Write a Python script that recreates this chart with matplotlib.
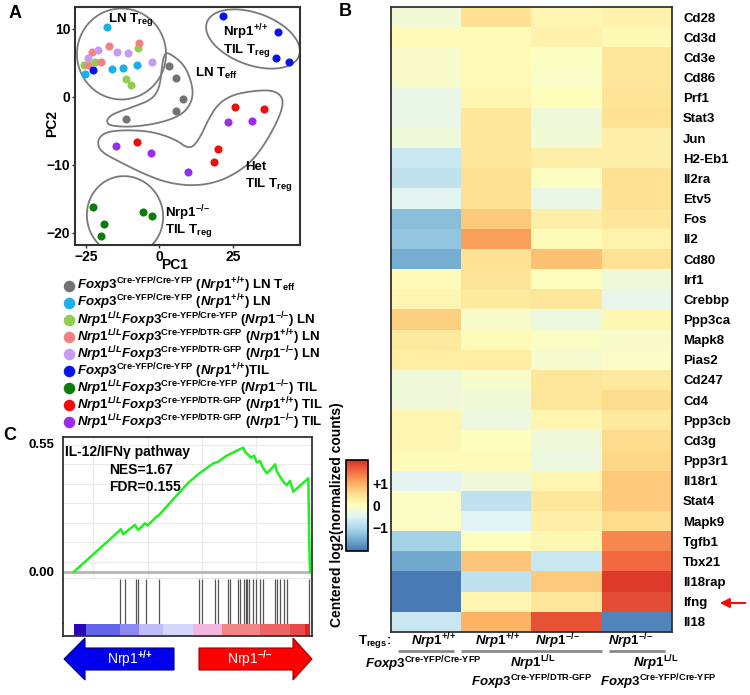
import numpy as np
import matplotlib
matplotlib.use('Agg')
import matplotlib.pyplot as plt
from matplotlib.colors import LinearSegmentedColormap
from matplotlib.patches import Polygon, FancyArrow

plt.rcParams['font.family'] = ['Liberation Sans', 'DejaVu Sans']
plt.rcParams['font.weight'] = 'bold'
plt.rcParams['mathtext.fontset'] = 'custom'
plt.rcParams['mathtext.rm'] = 'Liberation Sans:bold'
plt.rcParams['mathtext.it'] = 'Liberation Sans:italic:bold'
plt.rcParams['mathtext.bf'] = 'Liberation Sans:bold'
plt.rcParams['mathtext.sf'] = 'Liberation Sans:bold'

# ---------------- Panel A data (PC1, PC2) ----------------
ln_teff_pc1 = [3.3, 5.6, 8.0, 5.6, -11.4]
ln_teff_pc2 = [4.6, 2.8, -0.3, -2.1, -3.2]
ln_wt_pc1 = [-17.8, -25.3, -16.1, -12.4, -7.6]
ln_wt_pc2 = [10.3, 3.4, 4.1, 4.3, 4.7]
ln_ko_pc1 = [-7.3, -25.6, -21.9, -11.4, -9.7]
ln_ko_pc2 = [7.2, 4.7, 5.1, 2.6, 1.8]
ln_het_wt_pc1 = [-6.9, -17.1, -22.9, -24.3, -19.9]
ln_het_wt_pc2 = [7.9, 7.5, 6.6, 4.7, 5.1]
ln_het_ko_pc1 = [-20.9, -14.4, -10.7, -24.3, -2.5]
ln_het_ko_pc2 = [6.9, 6.6, 6.5, 5.7, 5.1]
til_wt_pc1 = [-22.6, 21.6, 40.3, 39.7, 44.1]
til_wt_pc2 = [4.0, 11.9, 9.6, 5.7, 5.1]
til_ko_pc1 = [-22.6, -18.8, -19.9, -5.6, -2.5]
til_ko_pc2 = [-16.2, -18.7, -20.4, -16.9, -17.5]
til_het_wt_pc1 = [-7.6, 18.6, 19.9, 25.7, 35.6]
til_het_wt_pc2 = [-6.6, -9.6, -7.6, -1.5, -1.8]
til_het_ko_pc1 = [-14.7, -2.9, 9.7, 23.3, 31.5]
til_het_ko_pc2 = [-7.2, -8.2, -11.0, -3.7, -3.5]

group_colors = ['#737373', '#1cb0ea', '#8fce4f', '#f28282', '#c79bf2',
                '#0a14e6', '#0b7d0b', '#f00c0c', '#9a2cf0']

DASH = '\u2013'
CC = r"^{\text{Cre-YFP/Cre-YFP}}"
CD = r"^{\text{Cre-YFP/DTR-GFP}}"
FOX = r"\mathit{Foxp3}"
NRP = r"\mathit{Nrp1}"
LL = r"^{\mathit{L/L}}"
PP = r"^{{+}/{+}}"
MM = "^{" + DASH + "/" + DASH + "}"
legend_labels = [
    "$" + FOX + CC + "$ ($" + NRP + PP + r"$) LN T$_\mathrm{eff}$",
    "$" + FOX + CC + "$ ($" + NRP + PP + "$) LN",
    "$" + NRP + LL + FOX + CC + "$ ($" + NRP + MM + "$) LN",
    "$" + NRP + LL + FOX + CD + "$ ($" + NRP + PP + "$) LN",
    "$" + NRP + LL + FOX + CD + "$ ($" + NRP + MM + "$) LN",
    "$" + FOX + CC + "$ ($" + NRP + PP + "$)TIL",
    "$" + NRP + LL + FOX + CC + "$ ($" + NRP + MM + "$) TIL",
    "$" + NRP + LL + FOX + CD + "$ ($" + NRP + PP + "$) TIL",
    "$" + NRP + LL + FOX + CD + "$ ($" + NRP + MM + "$) TIL",
]

# ---------------- Panel B data ----------------
genes = ['Cd28', 'Cd3d', 'Cd3e', 'Cd86', 'Prf1', 'Stat3', 'Jun', 'H2-Eb1', 'Il2ra',
         'Etv5', 'Fos', 'Il2', 'Cd80', 'Irf1', 'Crebbp', 'Ppp3ca', 'Mapk8', 'Pias2',
         'Cd247', 'Cd4', 'Ppp3cb', 'Cd3g', 'Ppp3r1', 'Il18r1', 'Stat4', 'Mapk9',
         'Tgfb1', 'Tbx21', 'Il18rap', 'Ifng', 'Il18']
foxp3_wt = [-0.2, 0.05, -0.1, -0.1, -0.35, -0.35, -0.25, -0.75, -0.85, -0.45, -1.35,
            -1.25, -1.55, 0.08, 0.15, 0.7, 0.35, 0.3, -0.25, -0.25, 0.15, 0.12, 0.08,
            -0.45, -0.05, -0.05, -1.1, -1.6, -2.05, -2.05, -0.75]
het_wt = [0.5, 0.05, 0.05, 0.05, 0.15, 0.4, 0.4, 0.4, 0.5, 0.5, 0.75, 1.15, 0.5,
          0.45, 0.35, -0.1, 0.05, 0.3, -0.1, -0.22, -0.3, 0.0, 0.05, -0.25, -0.85,
          -0.5, 0.0, 0.8, -0.85, 0.15, 1.0]
het_ko = [0.15, 0.2, -0.02, -0.08, 0.02, -0.25, -0.2, 0.25, -0.03, -0.35, 0.25, 0.08,
          0.85, 0.03, 0.4, -0.3, -0.05, -0.15, 0.4, 0.4, 0.15, -0.25, -0.3, 0.15, 0.4,
          0.25, 0.12, -0.75, 0.75, 0.4, 1.8]
ko = [0.2, 0.1, 0.4, 0.4, 0.45, 0.5, 0.25, 0.25, 0.5, 0.5, 0.4, 0.2, 0.5, -0.25,
      -0.4, 0.12, -0.1, -0.08, 0.35, 0.55, 0.35, 0.55, 0.6, 0.75, 0.75, 0.55, 1.35,
      1.6, 2.0, 1.85, -1.95]

# ---------------- Panel C data ----------------
es_rank = [0, 18.8, 19.8, 20.9, 23.0, 25.8, 27.2, 30.1, 31.1, 35.0, 36.0, 48.3, 52.7,
           59.0, 61.1, 64.7, 66.8, 69.6, 71.7, 72.5, 73.9, 75.0, 76.3, 77.4, 78.8, 80.2,
           81.7, 83.8, 85.2, 85.9, 87.3, 88.7, 90.1, 91.5, 92.9, 99.3, 99.7, 100]
es_value = [0, 0.171, 0.182, 0.160, 0.178, 0.200, 0.178, 0.207, 0.197, 0.235, 0.242,
            0.379, 0.417, 0.463, 0.470, 0.496, 0.506, 0.520, 0.530, 0.512, 0.499, 0.487,
            0.496, 0.468, 0.473, 0.442, 0.420, 0.442, 0.459, 0.430, 0.406, 0.385, 0.370,
            0.388, 0.342, 0.399, 0.114, 0.0]
hit_ranks = [19.5, 21.6, 26.1, 27.2, 30.5, 36.0, 53.0, 54.4, 59.7, 60.9, 65.1, 66.1,
             69.4, 70.3, 72.2, 72.8, 73.3, 74.2, 76.0, 77.0, 78.8, 80.2, 85.2, 86.1,
             87.3, 89.1, 90.1, 99.7]
strip_edges = [0, 5.1, 19.5, 27.5, 37.7, 50.4, 62.7, 78.8, 91.5, 97.9, 100]
strip_colors = ['#2a06bd', '#6464ea', '#8a8af2', '#bdbdf7', '#d6d6fa', '#f3b6e0',
                '#f28585', '#ee6464', '#e84848', '#e02424']

W, H = 750, 695
fig = plt.figure(figsize=(7.5, 6.95), dpi=100)
fig.patch.set_facecolor('white')


def rect(x0, y0, x1, y1):
    return [x0 / W, 1 - y1 / H, (x1 - x0) / W, (y1 - y0) / H]


def px2pc(p):
    p = np.asarray(p, float)
    return np.c_[(p[:, 0] - 159.4) / 2.94, (97 - p[:, 1]) / 6.8]


def ellipse_px(cx, cy, w, h, ang):
    t = np.linspace(0, 2 * np.pi, 200)
    a = np.deg2rad(ang)
    x = w / 2 * np.cos(t)
    y = h / 2 * np.sin(t)
    return np.c_[cx + x * np.cos(a) - y * np.sin(a), cy + x * np.sin(a) + y * np.cos(a)]


def smooth_closed(pts, n=4):
    P = np.asarray(pts, float)
    for _ in range(n):
        N = np.roll(P, -1, axis=0)
        Q = 0.75 * P + 0.25 * N
        R = 0.25 * P + 0.75 * N
        P = np.empty((2 * len(Q), 2))
        P[0::2] = Q
        P[1::2] = R
    return P


# ================= Panel A =================
axA = fig.add_axes(rect(75, 7, 300, 245))
axA.set_xlim((75 - 159.4) / 2.94, (300 - 159.4) / 2.94)
axA.set_ylim((97 - 245) / 6.8, (97 - 7) / 6.8)
groups = [(ln_teff_pc1, ln_teff_pc2), (ln_wt_pc1, ln_wt_pc2), (ln_ko_pc1, ln_ko_pc2),
          (ln_het_wt_pc1, ln_het_wt_pc2), (ln_het_ko_pc1, ln_het_ko_pc2),
          (til_wt_pc1, til_wt_pc2), (til_ko_pc1, til_ko_pc2),
          (til_het_wt_pc1, til_het_wt_pc2), (til_het_ko_pc1, til_het_ko_pc2)]
for (gx, gy), c in zip(groups, group_colors):
    axA.scatter(gx, gy, s=34, color=c, linewidths=0, zorder=3)

shape_kw = dict(fill=False, ec='#7a7a7a', lw=1.3, zorder=2)
axA.add_patch(Polygon(px2pc(ellipse_px(121.5, 54, 89, 91, 0)), **shape_kw))
axA.add_patch(Polygon(px2pc(ellipse_px(253, 39, 98, 52, 20)), **shape_kw))
axA.add_patch(Polygon(px2pc(ellipse_px(125, 216, 76, 80, -15)), **shape_kw))
teff_blob = [(168, 52), (185, 65), (193, 87), (192, 102), (182, 115), (160, 123),
             (133, 127), (110, 126), (106, 121), (112, 114), (133, 107), (153, 99),
             (160, 86), (162, 66), (164, 55)]
axA.add_patch(Polygon(px2pc(smooth_closed(teff_blob)), **shape_kw))
het_blob = [(97, 142), (103, 133), (120, 130), (150, 131), (175, 139), (190, 150),
            (200, 138), (208, 120), (218, 104), (232, 95), (252, 91), (272, 90),
            (282, 96), (283, 106), (277, 122), (266, 142), (253, 160), (238, 172),
            (218, 182), (194, 186), (168, 183), (144, 174), (120, 162), (101, 152)]
axA.add_patch(Polygon(px2pc(smooth_closed(het_blob)), **shape_kw))

axA.set_xticks([-25, 0, 25])
axA.set_yticks([-20, -10, 0, 10])
axA.tick_params(labelsize=10, length=2, width=1, pad=1.5, color='#333333')
for s in axA.spines.values():
    s.set_linewidth(1.5)
    s.set_color('#333333')

# ================= Panel B =================
cmap = LinearSegmentedColormap.from_list('rdylbu', ['#4575b4', '#74add1', '#abd9e9',
                                                    '#e0f3f8', '#ffffbf', '#fee090',
                                                    '#fdae61', '#f46d43', '#d73027'])
axB = fig.add_axes(rect(391, 7, 672, 632))
mat = np.array([foxp3_wt, het_wt, het_ko, ko]).T
im = axB.imshow(mat, aspect='auto', cmap=cmap, vmin=-2.1, vmax=2.1, interpolation='nearest')
axB.set_yticks(range(len(genes)))
axB.set_yticklabels(genes)
axB.yaxis.tick_right()
axB.set_xticks([])
axB.tick_params(axis='y', length=0, pad=8, labelsize=9.5)
for s in axB.spines.values():
    s.set_linewidth(1.3)
    s.set_color('#333333')

cax = fig.add_axes(rect(346, 460, 368, 551))
cb = fig.colorbar(im, cax=cax, ticks=[1, 0, -1])
cb.ax.set_yticklabels(['+1', '0', '\u22121'])
cb.ax.tick_params(length=0, pad=3, labelsize=10)
cb.outline.set_linewidth(1.2)

# ================= Panel C =================
rx0, rx1 = (63 - 74) / 2.36, (312 - 74) / 2.36
axC = fig.add_axes(rect(63, 437, 312, 579))
axC.set_xlim(rx0, rx1)
axC.set_ylim(-(579 - 571.7) / 234, (571.7 - 437) / 234)
for g in [0.041, 0.125, 0.208, 0.292, 0.375, 0.459, 0.542]:
    axC.axhline(g, color='#ececec', lw=0.8, zorder=0)
for g in [8, 31.4, 54.2, 77.1]:
    axC.axvline(g, color='#ececec', lw=0.8, zorder=0)
axC.axhline(0, color='#b5b5b5', lw=2, zorder=1)
axC.plot(es_rank, es_value, color='#22ee22', lw=1.8, zorder=3)
axC.set_xticks([])
axC.set_yticks([0, 0.55])
axC.set_yticklabels(['0.00', '0.55'])
axC.tick_params(axis='y', length=0, pad=6, labelsize=9.5)
for k, s in axC.spines.items():
    s.set_linewidth(1.3)
    s.set_color('#333333')
axC.spines['bottom'].set_color('#999999')
axC.spines['bottom'].set_linewidth(1.0)

axH = fig.add_axes(rect(63, 579, 312, 624))
axH.set_xlim(rx0, rx1)
axH.set_ylim(0, 1)
axH.vlines(hit_ranks, 0, 1, color='#555555', lw=0.9)
axH.set_xticks([])
axH.set_yticks([])
axH.spines['top'].set_visible(False)
axH.spines['bottom'].set_visible(False)
for k in ['left', 'right']:
    axH.spines[k].set_linewidth(1.3)
    axH.spines[k].set_color('#333333')

axS = fig.add_axes(rect(63, 624, 312, 636))
axS.set_xlim(rx0, rx1)
axS.set_ylim(0, 1)
for i, c in enumerate(strip_colors):
    axS.axvspan(strip_edges[i], strip_edges[i + 1], color=c, lw=0)
axS.set_xticks([])
axS.set_yticks([])
axS.spines['top'].set_visible(False)
for k in ['left', 'right', 'bottom']:
    axS.spines[k].set_linewidth(1.3)
    axS.spines[k].set_color('#333333')

# ================= Overlay (text, legend, arrows) =================
ov = fig.add_axes([0, 0, 1, 1], zorder=10)
ov.set_xlim(0, W)
ov.set_ylim(H, 0)
ov.axis('off')

ov.text(15, 13, 'A', fontsize=13, ha='center', va='center')
ov.text(345, 12, 'B', fontsize=13, ha='center', va='center')
ov.text(10, 435, 'C', fontsize=13, ha='center', va='center')

ov.text(52, 124, 'PC2', fontsize=10, rotation=90, ha='center', va='center')
ov.text(175, 265, 'PC1', fontsize=10, ha='center', va='center')

ov.text(131, 20, r'LN T$_\mathrm{reg}$', fontsize=9.5, ha='center', va='center')
ov.text(223, 32, 'Nrp1$' + PP + '$', fontsize=9.5, ha='left', va='center')
ov.text(223, 51, r'TIL T$_\mathrm{reg}$', fontsize=9.5, ha='left', va='center')
ov.text(195, 73, r'LN T$_\mathrm{eff}$', fontsize=9.5, ha='left', va='center')
ov.text(245, 167, 'Het', fontsize=9.5, ha='left', va='center')
ov.text(245, 185, r'TIL T$_\mathrm{reg}$', fontsize=9.5, ha='left', va='center')
ov.text(165, 213, 'Nrp1$' + MM + '$', fontsize=9.5, ha='left', va='center')
ov.text(165, 231, r'TIL T$_\mathrm{reg}$', fontsize=9.5, ha='left', va='center')

for i, (lab, c) in enumerate(zip(legend_labels, group_colors)):
    y = 285.5 + 17.1 * i
    ov.plot(68.5, y, 'o', ms=8.3, color=c, mec='none')
    ov.text(77, y, lab, fontsize=9.5, ha='left', va='center')

# panel C texts
ov.text(65, 452, 'IL-12/IFN\u03b3 pathway', fontsize=10, ha='left', va='center')
ov.text(109, 470, 'NES=1.67', fontsize=10, ha='left', va='center')
ov.text(109, 487, 'FDR=0.155', fontsize=10, ha='left', va='center')

ov.add_patch(FancyArrow(174, 659, -110, 0, width=22, head_width=42, head_length=21,
                        length_includes_head=True, fc='#0000ee', ec='#000080', lw=0.8))
ov.add_patch(FancyArrow(199, 659, 113, 0, width=22, head_width=42, head_length=19,
                        length_includes_head=True, fc='#ff0000', ec='#a00000', lw=0.8))
ov.text(130, 659, 'Nrp1$' + PP + '$', fontsize=10, color='white', weight='normal',
        ha='center', va='center')
ov.text(250, 659, 'Nrp1$' + MM + '$', fontsize=10, color='white', weight='normal',
        ha='center', va='center')

# panel B texts
ov.text(337, 515, 'Centered log2(normalized counts)', fontsize=10, rotation=90,
        ha='center', va='center')
ov.text(375, 642, r'T$_\mathrm{regs}$:', fontsize=9.5, ha='center', va='center')
for xc, lab in zip([434, 498, 557, 630],
                   [NRP + PP, NRP + PP, NRP + MM, NRP + MM]):
    ov.text(xc, 641, '$' + lab + '$', fontsize=9.5, ha='center', va='center')
for xa, xb in [(398, 454), (461, 602), (609, 665)]:
    ov.plot([xa, xb], [651, 651], color='#8a8a8a', lw=2, solid_capstyle='butt')
ov.text(423, 664, '$' + FOX + CC + '$', fontsize=9.5, ha='center', va='center')
ov.text(533, 663, '$' + NRP + r'^{\mathrm{L/L}}' + '$', fontsize=9.5, ha='center', va='center')
ov.text(532, 682, '$' + FOX + CD + '$', fontsize=9.5, ha='center', va='center')
ov.text(656, 663, '$' + NRP + r'^{\mathrm{L/L}}' + '$', fontsize=9.5, ha='center', va='center')
ov.text(658, 682, '$' + FOX + CC + '$', fontsize=9.5, ha='center', va='center')

ov.annotate('', xy=(717, 603), xytext=(748, 603),
            arrowprops=dict(arrowstyle='-|>', color='#ee1111', lw=1.5, mutation_scale=14))

fig.savefig('out.png', dpi=100, facecolor='white')
